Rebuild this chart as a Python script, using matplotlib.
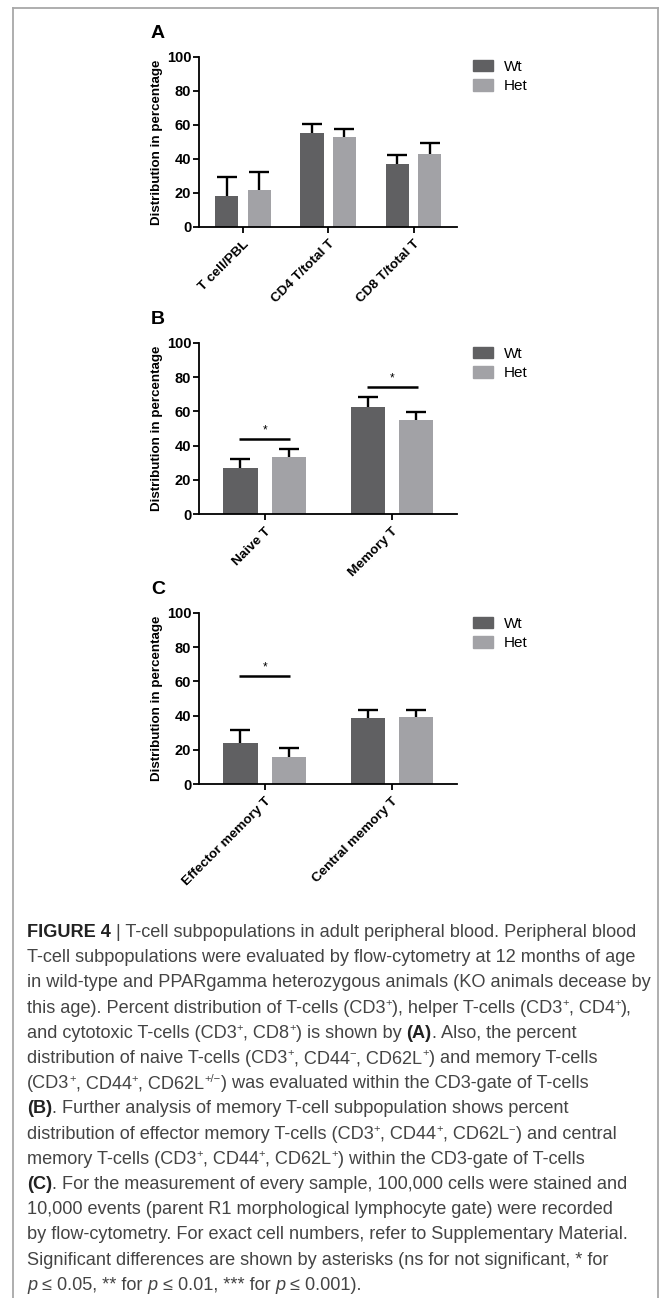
import re
import matplotlib
matplotlib.use('Agg')
import matplotlib.pyplot as plt
from matplotlib.patches import Patch
from matplotlib.lines import Line2D

# ---------------------------------------------------------------- data
series = ['Wt', 'Het']

groups_a = ['T cell/PBL', 'CD4 T/total T', 'CD8 T/total T']
wt_a = [18.4, 55.5, 37.1]
wt_a_err = [11.3, 5.0, 5.3]
het_a = [21.9, 53.1, 43.2]
het_a_err = [10.7, 4.7, 6.0]
sig_a = [None, None, None]

groups_b = ['Naive T', 'Memory T']
wt_b = [26.9, 62.6]
wt_b_err = [5.3, 6.0]
het_b = [33.3, 55.0]
het_b_err = [4.5, 4.8]
sig_b = [44.0, 74.5]

groups_c = ['Effector memory T', 'Central memory T']
wt_c = [24.2, 38.4]
wt_c_err = [7.2, 4.9]
het_c = [15.8, 39.2]
het_c_err = [5.3, 4.1]
sig_c = [63.2, None]

yticks = [0, 20, 40, 60, 80, 100]
ylabel = 'Distribution in percentage'

caption = [
    '<b>FIGURE 4</b> | T-cell subpopulations in adult peripheral blood. Peripheral blood',
    'T-cell subpopulations were evaluated by flow-cytometry at 12 months of age',
    'in wild-type and PPARgamma heterozygous animals (KO animals decease by',
    'this age). Percent distribution of T-cells (CD3<s>+</s>), helper T-cells (CD3<s>+</s>, CD4<s>+</s>),',
    'and cytotoxic T-cells (CD3<s>+</s>, CD8<s>+</s>) is shown by <b>(A)</b>. Also, the percent',
    'distribution of naive T-cells (CD3<s>+</s>, CD44<s>\u2212</s>, CD62L<s>+</s>) and memory T-cells',
    '(CD3<s>+</s>, CD44<s>+</s>, CD62L<s>+/\u2212</s>) was evaluated within the CD3-gate of T-cells',
    '<b>(B)</b>. Further analysis of memory T-cell subpopulation shows percent',
    'distribution of effector memory T-cells (CD3<s>+</s>, CD44<s>+</s>, CD62L<s>\u2212</s>) and central',
    'memory T-cells (CD3<s>+</s>, CD44<s>+</s>, CD62L<s>+</s>) within the CD3-gate of T-cells',
    '<b>(C)</b>. For the measurement of every sample, 100,000 cells were stained and',
    '10,000 events (parent R1 morphological lymphocyte gate) were recorded',
    'by flow-cytometry. For exact cell numbers, refer to Supplementary Material.',
    'Significant differences are shown by asterisks (ns for not significant, * for',
    '<i>p</i> \u2264 0.05, ** for <i>p</i> \u2264 0.01, *** for <i>p</i> \u2264 0.001).',
]

# ---------------------------------------------------------------- style
W, H = 666, 1298
DPI = 100
c_wt = '#606062'
c_het = '#a2a2a6'
font = ['Liberation Sans', 'DejaVu Sans']
cap_col = '#444444'
cap_size = 13.1

plt.rcParams['font.family'] = font

fig = plt.figure(figsize=(W / DPI, H / DPI), dpi=DPI)


def fx(px):
    return px / W


def fy(py):
    return 1 - py / H


def panel(letter, top_px, bottom_px, groups, wt, wt_err, het, het_err, sig,
          leg_y):
    ax = fig.add_axes([fx(199), fy(bottom_px), fx(457) - fx(199),
                       fy(top_px) - fy(bottom_px)])
    n = len(groups)
    xs = list(range(n))
    off, bw = 0.19, 0.27
    # error bars sit behind the bars so only the upper half shows
    for pos, vals, errs, col, lab in [([x - off for x in xs], wt, wt_err, c_wt, series[0]),
                                      ([x + off for x in xs], het, het_err, c_het, series[1])]:
        ax.errorbar(pos, vals, yerr=errs, fmt='none', ecolor='black',
                    elinewidth=1.7, capsize=7.5, capthick=1.7, zorder=1)
        ax.bar(pos, vals, bw, color=col, label=lab, zorder=2)
    for x, s in zip(xs, sig):
        if s is None:
            continue
        ax.plot([x - 0.2, x + 0.2], [s, s], color='black', lw=1.8,
                solid_capstyle='butt', clip_on=False)
        ax.text(x, s + 1.5, '*', ha='center', va='bottom', fontsize=8.5)
    ax.set_xlim(-0.515, n - 1 + 0.51)
    ax.set_ylim(0, 100)
    ax.set_yticks(yticks)
    ax.set_yticklabels([str(t) for t in yticks], fontweight='bold',
                       fontsize=10.5)
    ax.set_xticks(xs)
    ax.set_xticklabels(groups, rotation=45, ha='right', va='top',
                       rotation_mode='anchor', fontweight='bold', fontsize=9.7)
    for sp in ['top', 'right']:
        ax.spines[sp].set_visible(False)
    for sp in ['left', 'bottom']:
        ax.spines[sp].set_linewidth(1.3)
    ax.tick_params(axis='both', direction='out', length=4, width=1.3,
                   pad=1.5, colors='black')
    ax.tick_params(axis='x', pad=4)
    ax.set_ylabel(ylabel, fontweight='bold', fontsize=9.6, labelpad=3)
    fig.text(fx(151), fy(top_px - 24), letter, fontsize=14,
             fontweight='bold', va='center', ha='left')
    handles = [Patch(color=c_wt), Patch(color=c_het)]
    ax.legend(handles, series, loc='upper left',
              bbox_to_anchor=(fx(473), fy(leg_y)),
              bbox_transform=fig.transFigure, frameon=False, fontsize=11,
              borderpad=0, borderaxespad=0, handlelength=1.3,
              handleheight=0.75, handletextpad=0.7, labelspacing=0.35)
    return ax


panel('A', 57, 227, groups_a, wt_a, wt_a_err, het_a, het_a_err, sig_a, 60)
panel('B', 343, 514, groups_b, wt_b, wt_b_err, het_b, het_b_err, sig_b, 347)
panel('C', 613, 784, groups_c, wt_c, wt_c_err, het_c, het_c_err, sig_c, 617)

# frame around figure
fc = '#a8a8a8'
fig.add_artist(Line2D([fx(13), fx(658)], [fy(8), fy(8)], color=fc, lw=1.3))
fig.add_artist(Line2D([fx(13), fx(13)], [fy(8), 0], color=fc, lw=1.3))
fig.add_artist(Line2D([fx(658), fx(658)], [fy(8), 0], color=fc, lw=1.3))

# caption, one line at a time, mixed styles
renderer = fig.canvas.get_renderer()
size_px = cap_size * DPI / 72.0


def seg_width(t):
    bar = fig.text(0, 0, '|', fontsize=t.get_fontsize(),
                   fontweight=t.get_fontweight(), fontstyle=t.get_fontstyle())
    t2 = fig.text(0, 0, t.get_text() + '|', fontsize=t.get_fontsize(),
                  fontweight=t.get_fontweight(), fontstyle=t.get_fontstyle())
    w = t2.get_window_extent(renderer).width - bar.get_window_extent(renderer).width
    bar.remove()
    t2.remove()
    return w


def rich_line(x_px, y_px, line):
    parts = re.split(r'(<[bis]>.*?</[bis]>)', line)
    x = x_px
    for p in parts:
        if not p:
            continue
        m = re.match(r'<([bis])>(.*?)</\1>', p)
        kw = dict(fontsize=cap_size, color=cap_col)
        yy = y_px
        txt = p
        if m:
            kind, txt = m.group(1), m.group(2)
            if kind == 'b':
                kw['fontweight'] = 'bold'
                kw['color'] = '#222222'
            elif kind == 'i':
                kw['fontstyle'] = 'italic'
            else:
                kw['fontsize'] = cap_size * 0.62
                yy = y_px - size_px * 0.36
        t = fig.text(fx(x), fy(yy), txt, va='baseline', ha='left', **kw)
        x += seg_width(t)


y0 = 937
dy = 25.2
for i, line in enumerate(caption):
    rich_line(27, y0 + i * dy, line)

fig.savefig('out.png', dpi=DPI)
